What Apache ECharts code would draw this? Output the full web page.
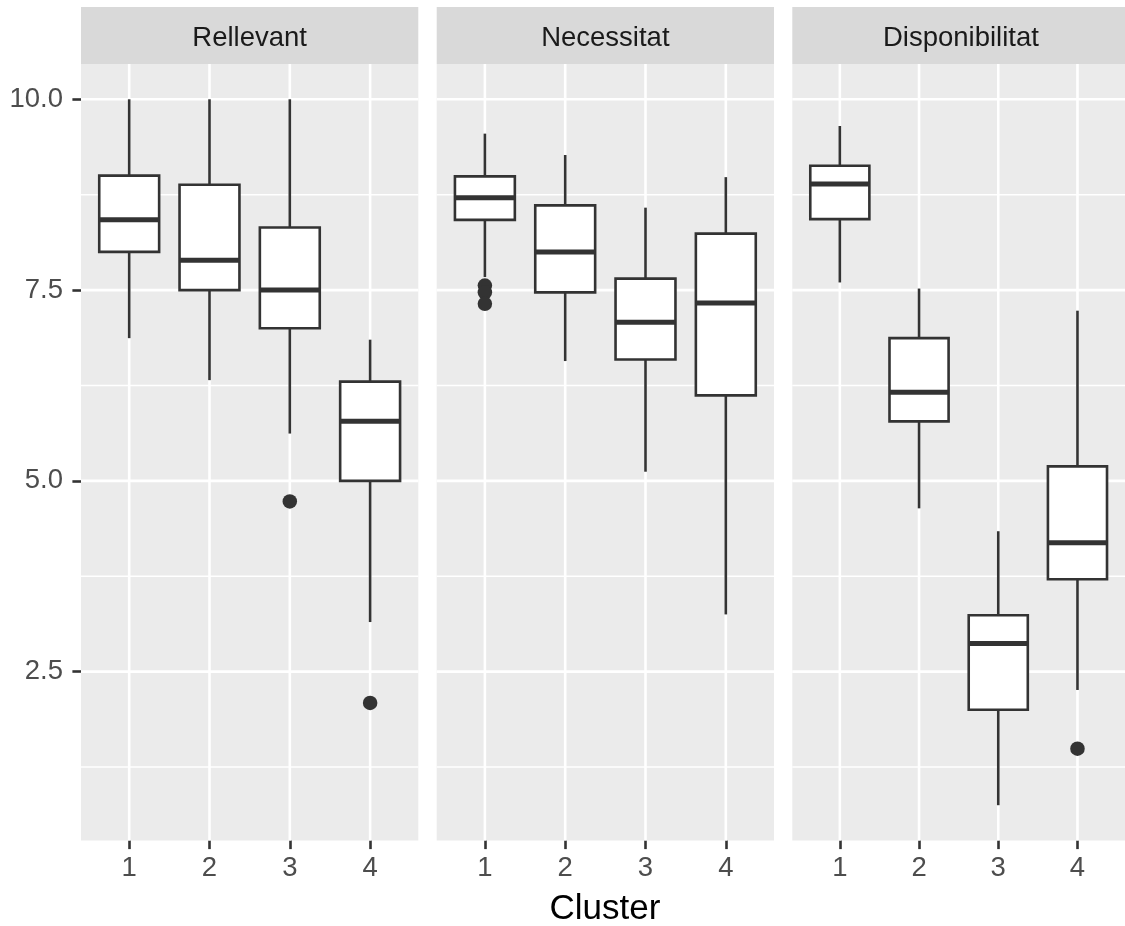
<!DOCTYPE html>
<html><head><meta charset="utf-8">
<script src="https://cdn.jsdelivr.net/npm/echarts@6/dist/echarts.min.js"></script>
<style>html,body{margin:0;padding:0;background:#fff}#c{width:1125px;height:926px}</style>
</head><body><div id="c"></div>
<script>
const facets = ['Rellevant', 'Necessitat', 'Disponibilitat'];
const clusters = [1, 2, 3, 4];
const yTicks = [2.5, 5.0, 7.5, 10.0];
const yMinorTicks = [1.25, 3.75, 6.25, 8.75];
const xTitle = 'Cluster';
// [low whisker, Q1, median, Q3, high whisker] per cluster
const rellevantBoxes = [[6.87, 8.0, 8.42, 9.0, 10.0], [6.32, 7.5, 7.89, 8.88, 10.0], [5.62, 7.0, 7.5, 8.32, 10.0], [3.15, 5.0, 5.78, 6.3, 6.85]];
const necessitatBoxes = [[7.67, 8.42, 8.71, 8.99, 9.55], [6.57, 7.47, 8.0, 8.61, 9.27], [5.12, 6.59, 7.08, 7.65, 8.58], [3.25, 6.12, 7.33, 8.24, 8.98]];
const disponibilitatBoxes = [[7.6, 8.43, 8.89, 9.13, 9.65], [4.64, 5.78, 6.16, 6.87, 7.52], [0.75, 2.0, 2.87, 3.24, 4.34], [2.26, 3.71, 4.19, 5.19, 7.23]];
// [cluster, value]
const rellevantOutliers = [[3, 4.73], [4, 2.09]];
const necessitatOutliers = [[1, 7.56], [1, 7.47], [1, 7.32]];
const disponibilitatOutliers = [[4, 1.49]];

const boxesByFacet = [rellevantBoxes, necessitatBoxes, disponibilitatBoxes];
const outliersByFacet = [rellevantOutliers, necessitatOutliers, disponibilitatOutliers];

const FONT = 'Liberation Sans';
const DARK = '#333333';
const panelLeft = [81, 436.7, 792.3];
const panelW = 337.3;
const panelTop = 64;
const panelH = 776.5;
const Y_MIN = 0.2875, Y_MAX = 10.4625;

function renderBox(params, api) {
  const x = api.value(0);
  const pLo = api.coord([x, api.value(1)]);
  const pQ1 = api.coord([x, api.value(2)]);
  const pMed = api.coord([x, api.value(3)]);
  const pQ3 = api.coord([x, api.value(4)]);
  const pHi = api.coord([x, api.value(5)]);
  const hw = api.size([0.746, 0])[0] / 2;
  const cx = pLo[0];
  const ls = { stroke: DARK, lineWidth: 2.6, fill: null };
  return { type: 'group', children: [
    { type: 'line', shape: { x1: cx, y1: pHi[1], x2: cx, y2: pQ3[1] }, style: ls },
    { type: 'line', shape: { x1: cx, y1: pQ1[1], x2: cx, y2: pLo[1] }, style: ls },
    { type: 'rect', shape: { x: cx - hw, y: pQ3[1], width: 2 * hw, height: pQ1[1] - pQ3[1] }, style: { fill: '#ffffff', stroke: DARK, lineWidth: 2.6 } },
    { type: 'line', shape: { x1: cx - hw, y1: pMed[1], x2: cx + hw, y2: pMed[1] }, style: { stroke: DARK, lineWidth: 5 } }
  ] };
}
function renderHGrid(width) {
  return function (params, api) {
    const cs = params.coordSys;
    const y = api.coord([api.value(0), api.value(1)])[1];
    return { type: 'line', shape: { x1: cs.x, y1: y, x2: cs.x + cs.width, y2: y }, style: { stroke: '#ffffff', lineWidth: width } };
  };
}
function renderVGrid(params, api) {
  const cs = params.coordSys;
  const x = api.coord([api.value(0), api.value(1)])[0];
  return { type: 'line', shape: { x1: x, y1: cs.y, x2: x, y2: cs.y + cs.height }, style: { stroke: '#ffffff', lineWidth: 2.6 } };
}

const grids = [], xAxes = [], yAxes = [], series = [], graphics = [];
facets.forEach((name, i) => {
  grids.push({ left: panelLeft[i], top: panelTop, width: panelW, height: panelH, show: true, backgroundColor: '#EBEBEB', borderWidth: 0 });
  xAxes.push({
    type: 'value', gridIndex: i, min: 0.4, max: 4.6,
    axisLine: { show: false }, splitLine: { show: false },
    axisTick: { show: true, customValues: clusters, length: 8.6, lineStyle: { color: DARK, width: 2.6 } },
    axisLabel: { show: true, customValues: clusters, color: '#4D4D4D', fontSize: 27.5, fontFamily: FONT, margin: 14, formatter: v => String(v) }
  });
  yAxes.push({
    type: 'value', gridIndex: i, min: Y_MIN, max: Y_MAX,
    axisLine: { show: false }, splitLine: { show: false },
    axisTick: { show: i === 0, customValues: yTicks, length: 8.6, lineStyle: { color: DARK, width: 2.6 } },
    axisLabel: { show: i === 0, customValues: yTicks, color: '#4D4D4D', fontSize: 27.5, fontFamily: FONT, margin: 18, padding: [5, 0, 0, 0], formatter: v => v.toFixed(1) }
  });
  series.push({ type: 'custom', xAxisIndex: i, yAxisIndex: i, z: 1, silent: true, renderItem: renderHGrid(1.4), data: yMinorTicks.map(v => [clusters[0], v]), encode: { x: 0, y: 1 } });
  series.push({ type: 'custom', xAxisIndex: i, yAxisIndex: i, z: 1, silent: true, renderItem: renderHGrid(2.6), data: yTicks.map(v => [clusters[0], v]), encode: { x: 0, y: 1 } });
  series.push({ type: 'custom', xAxisIndex: i, yAxisIndex: i, z: 1, silent: true, renderItem: renderVGrid, data: clusters.map(c => [c, yTicks[0]]), encode: { x: 0, y: 1 } });
  series.push({ type: 'custom', name: name, xAxisIndex: i, yAxisIndex: i, z: 3, renderItem: renderBox,
    data: clusters.map((c, k) => [c].concat(boxesByFacet[i][k])), encode: { x: 0, y: [1, 2, 3, 4, 5] } });
  series.push({ type: 'scatter', xAxisIndex: i, yAxisIndex: i, z: 4, symbol: 'circle', symbolSize: 14.5,
    itemStyle: { color: DARK, opacity: 1 }, data: outliersByFacet[i] });
  graphics.push({ type: 'rect', left: panelLeft[i], top: 7, shape: { width: panelW, height: 57 }, style: { fill: '#D9D9D9' }, z: 0 });
  graphics.push({ type: 'text', x: panelLeft[i] + panelW / 2, y: 38.5, style: { text: name, fill: '#1A1A1A', fontSize: 27.5, fontFamily: FONT, textAlign: 'center', textVerticalAlign: 'middle' } });
});
graphics.push({ type: 'text', x: 605, y: 909, style: { text: xTitle, fill: '#000000', fontSize: 35, fontFamily: FONT, textAlign: 'center', textVerticalAlign: 'middle' } });

const chart = echarts.init(document.getElementById('c'), null, { renderer: 'canvas' });
chart.setOption({
  animation: false,
  backgroundColor: '#ffffff',
  textStyle: { fontFamily: FONT },
  grid: grids, xAxis: xAxes, yAxis: yAxes, series: series, graphic: graphics
});
</script>
</body></html>
